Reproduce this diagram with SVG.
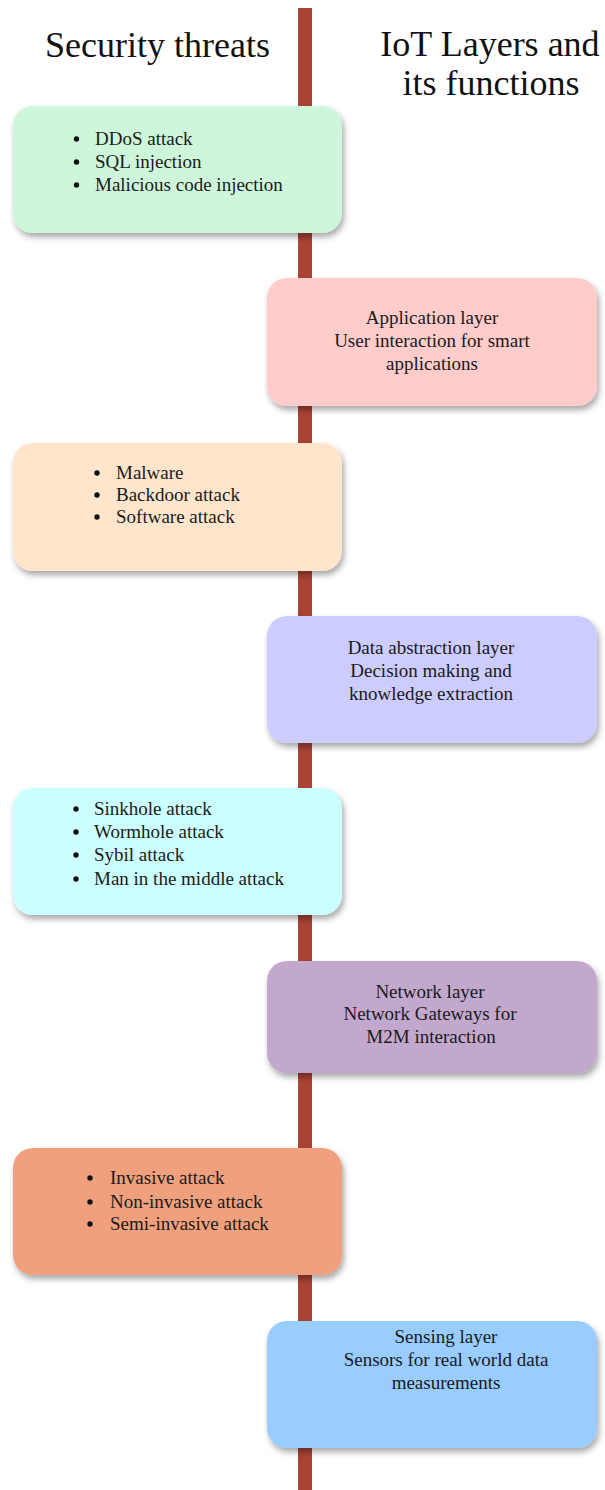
<svg xmlns="http://www.w3.org/2000/svg" width="605" height="1490" viewBox="0 0 605 1490">
  <style>
    .hdr { font-family: "Liberation Serif", "Times New Roman", serif; font-size: 36px; fill: #111; }
    .t { font-family: "Liberation Serif", "Times New Roman", serif; font-size: 19px; fill: #1a1a1a; }
    .c { text-anchor: middle; }
    .box { filter: url(#shadow); }
    .dot { fill: #111; }
  </style>
  <defs>
    <filter id="shadow" x="-10%" y="-10%" width="125%" height="135%">
      <feDropShadow dx="2" dy="4" stdDeviation="3" flood-color="#000" flood-opacity="0.35"/>
    </filter>
  </defs>

  <rect width="605" height="1490" fill="#fff"/>

  <!-- headings -->
  <text class="hdr" x="45" y="57">Security threats</text>
  <text class="hdr c" x="490" y="56">IoT Layers and</text>
  <text class="hdr c" x="491" y="95">its functions</text>

  <!-- central spine -->
  <g id="connectors">
    <rect x="298" y="8" width="14" height="1482" fill="#A94335"/>
  </g>

  <!-- threats (left column) -->
  <g id="threats-application">
    <rect class="box" x="13" y="106" width="329" height="127" rx="20" fill="#CEF6DA"/>
    <circle class="dot" cx="76.5" cy="139" r="2.7"/><text class="t" x="95" y="145">DDoS attack</text>
    <circle class="dot" cx="76.5" cy="162" r="2.7"/><text class="t" x="95" y="168">SQL injection</text>
    <circle class="dot" cx="76.5" cy="185" r="2.7"/><text class="t" x="95" y="191">Malicious code injection</text>
  </g>

  <g id="layer-application">
    <rect class="box" x="267" y="278" width="330" height="128" rx="20" fill="#FFCCCC"/>
    <text class="t c" x="432" y="324">Application layer</text>
    <text class="t c" x="432" y="347">User interaction for smart</text>
    <text class="t c" x="432" y="370">applications</text>
  </g>

  <g id="threats-data">
    <rect class="box" x="13" y="443" width="329" height="128" rx="20" fill="#FFE5CC"/>
    <circle class="dot" cx="97" cy="473" r="2.7"/><text class="t" x="116" y="479">Malware</text>
    <circle class="dot" cx="97" cy="495" r="2.7"/><text class="t" x="116" y="501"> Backdoor attack</text>
    <circle class="dot" cx="97" cy="517" r="2.7"/><text class="t" x="116" y="523">Software attack</text>
  </g>

  <g id="layer-data">
    <rect class="box" x="267" y="616" width="330" height="127" rx="20" fill="#CCCCFF"/>
    <text class="t c" x="431" y="654">Data abstraction layer</text>
    <text class="t c" x="431" y="677">Decision making and</text>
    <text class="t c" x="431" y="700">knowledge extraction</text>
  </g>

  <g id="threats-network">
    <rect class="box" x="13" y="788" width="329" height="127" rx="20" fill="#CCFFFF"/>
    <circle class="dot" cx="76" cy="809" r="2.7"/><text class="t" x="94" y="815">Sinkhole attack</text>
    <circle class="dot" cx="76" cy="832" r="2.7"/><text class="t" x="94" y="838">Wormhole attack</text>
    <circle class="dot" cx="76" cy="855" r="2.7"/><text class="t" x="94" y="861">Sybil attack</text>
    <circle class="dot" cx="76" cy="879" r="2.7"/><text class="t" x="94" y="885">Man in the middle attack</text>
  </g>

  <g id="layer-network">
    <rect class="box" x="267" y="961" width="330" height="112" rx="20" fill="#C3A8CE"/>
    <text class="t c" x="430" y="998">Network layer</text>
    <text class="t c" x="430" y="1020">Network Gateways for</text>
    <text class="t c" x="431" y="1043">M2M interaction</text>
  </g>

  <g id="threats-sensing">
    <rect class="box" x="13" y="1148" width="329" height="127" rx="20" fill="#F0A07B"/>
    <circle class="dot" cx="90" cy="1178" r="2.7"/><text class="t" x="110" y="1184">Invasive attack</text>
    <circle class="dot" cx="90" cy="1202" r="2.7"/><text class="t" x="110" y="1208">Non-invasive attack</text>
    <circle class="dot" cx="90" cy="1224" r="2.7"/><text class="t" x="110" y="1230">Semi-invasive attack</text>
  </g>

  <g id="layer-sensing">
    <rect class="box" x="267" y="1321" width="330" height="127" rx="20" fill="#99CCFF"/>
    <text class="t c" x="446" y="1343">Sensing layer</text>
    <text class="t c" x="446" y="1366">Sensors for real world data</text>
    <text class="t c" x="446" y="1389">measurements</text>
  </g>
</svg>
